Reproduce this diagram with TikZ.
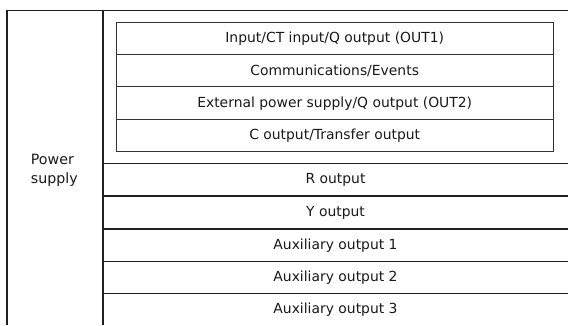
\documentclass[tikz,border=0pt]{standalone}
\usepackage{fontspec}
\setmainfont{DejaVu Sans}
\begin{document}
\begin{tikzpicture}[x=1pt,y=-1pt,
  frame/.style={line width=1.6pt,draw=black!88},
  inner/.style={line width=0.9pt,draw=black!80},
  lbl/.style={font=\fontsize{13.9}{16}\selectfont,inner sep=0pt,text=black!90},
  side/.style={font=\fontsize{14.2}{18.3}\selectfont,inner sep=0pt,align=left,text=black!90}]
\useasboundingbox (0,0) rectangle (568,325);
% outer frame
\draw[frame] (7,325) -- (7,10.5) -- (568,10.5);
\draw[frame] (103,10.5) -- (103,325);
% lower rows
\foreach \yy in {163.5,196,228.7,261.3,293.3}
  \draw[frame] (103,\yy) -- (568,\yy);
% inner box
\draw[inner] (116,22) rectangle (553.5,151);
\foreach \yy in {54,86.5,119}
  \draw[inner] (116,\yy) -- (553.5,\yy);
% labels
\node[lbl] (r1) at (334.7,38.5) {Input/CT input/Q output (OUT1)};
\node[lbl] (r2) at (334.7,70.8) {Communications/Events};
\node[lbl] (r3) at (334.7,103.2) {External power supply/Q output (OUT2)};
\node[lbl] (r4) at (334.7,135.5) {C output/Transfer output};
\node[lbl] (o1) at (335.5,180.3) {R output};
\node[lbl] (o2) at (335.5,213) {Y output};
\node[lbl] (o3) at (335.5,245.6) {Auxiliary output 1};
\node[lbl] (o4) at (335.5,278) {Auxiliary output 2};
\node[lbl] (o5) at (335.5,309.8) {Auxiliary output 3};
\node[side,anchor=north west] (ps) at (30.7,154.4) {Power\\supply};
\end{tikzpicture}
\end{document}
